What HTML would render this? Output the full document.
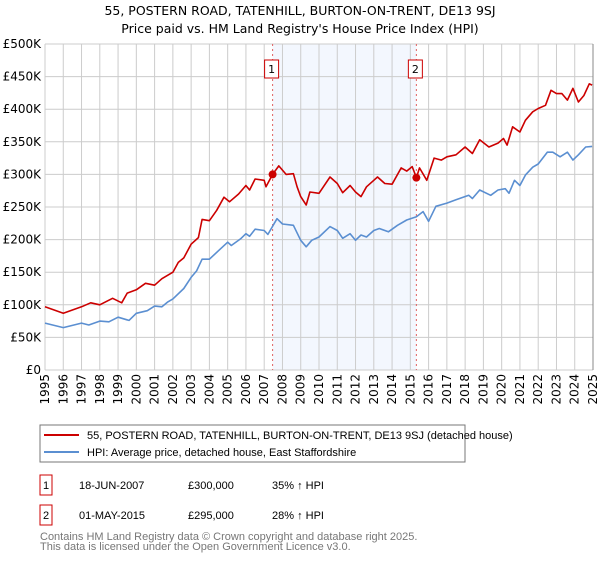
<!DOCTYPE html>
<html><head><meta charset="utf-8"><style>
body{margin:0;background:#fff;font-family:"Liberation Sans","DejaVu Sans",sans-serif}
svg text{font-family:"DejaVu Sans","Liberation Sans",sans-serif}
svg text.ls{font-family:"Liberation Sans",sans-serif}
</style></head><body>
<svg id="chart" width="600" height="560" xmlns="http://www.w3.org/2000/svg">
<text x="300" y="15" text-anchor="middle" font-size="12.5" fill="#000">55, POSTERN ROAD, TATENHILL, BURTON-ON-TRENT, DE13 9SJ</text>
<text x="300" y="33" text-anchor="middle" font-size="12.5" fill="#000">Price paid vs. HM Land Registry's House Price Index (HPI)</text>
<g id="plot"></g>
<rect x="40" y="425" width="425" height="37" fill="#fff" stroke="#777"/>
<line x1="44" y1="435" x2="79" y2="435" stroke="#cc0000" stroke-width="2"/>
<text class="ls" x="87" y="439" font-size="11">55, POSTERN ROAD, TATENHILL, BURTON-ON-TRENT, DE13 9SJ (detached house)</text>
<line x1="44" y1="452" x2="79" y2="452" stroke="#5b8fd1" stroke-width="2"/>
<text class="ls" x="87" y="456" font-size="11">HPI: Average price, detached house, East Staffordshire</text>
<rect x="40" y="475" width="12" height="20" fill="#fff" stroke="#cc0000"/>
<text class="ls" x="46" y="489" font-size="11" text-anchor="middle">1</text>
<text class="ls" x="79" y="489" font-size="11">18-JUN-2007</text>
<text class="ls" x="188" y="489" font-size="11">£300,000</text>
<text class="ls" x="272" y="489" font-size="11">35% ↑ HPI</text>
<rect x="40" y="505" width="12" height="20" fill="#fff" stroke="#cc0000"/>
<text class="ls" x="46" y="519" font-size="11" text-anchor="middle">2</text>
<text class="ls" x="79" y="519" font-size="11">01-MAY-2015</text>
<text class="ls" x="188" y="519" font-size="11">£295,000</text>
<text class="ls" x="272" y="519" font-size="11">28% ↑ HPI</text>
<text class="ls" x="40" y="540" font-size="11" fill="#777">Contains HM Land Registry data © Crown copyright and database right 2025.</text>
<text class="ls" x="40" y="550" font-size="11" fill="#777">This data is licensed under the Open Government Licence v3.0.</text>
</svg>
<script>
const redYears=[1995,1996,1997,1997.5,1998,1998.7,1999.2,1999.5,2000,2000.5,2001,2001.4,2002,2002.3,2002.6,2003,2003.4,2003.6,2004,2004.4,2004.8,2005.1,2005.6,2006,2006.2,2006.5,2007,2007.1,2007.46,2007.8,2008.2,2008.6,2008.8,2009,2009.3,2009.5,2010,2010.6,2011,2011.3,2011.7,2012,2012.3,2012.6,2013,2013.2,2013.6,2014,2014.5,2014.8,2015.1,2015.33,2015.5,2015.9,2016.3,2016.7,2017,2017.5,2018,2018.4,2018.8,2019.3,2019.8,2020.1,2020.3,2020.6,2021,2021.3,2021.7,2022,2022.4,2022.7,2023,2023.3,2023.6,2023.9,2024.2,2024.5,2024.8,2024.95];
const redValues=[97,87,97,103,100,110,103,118,123,133,130,140,150,165,172,193,203,231,229,245,265,258,270,283,276,293,291,281,300,313,300,301,281,266,253,273,271,296,286,272,283,273,266,281,291,296,286,285,310,305,312,295,310,291,325,322,327,330,342,332,353,342,348,355,345,373,365,383,396,401,406,429,424,424,414,432,411,421,439,437];
const hpiYears=[1995,1996,1997,1997.4,1998,1998.5,1999,1999.6,2000,2000.6,2001,2001.4,2001.7,2002,2002.6,2003,2003.3,2003.6,2004,2004.5,2005,2005.2,2005.7,2006,2006.2,2006.5,2007,2007.2,2007.7,2008,2008.6,2009,2009.3,2009.6,2010,2010.6,2011,2011.3,2011.7,2012,2012.3,2012.6,2013,2013.3,2013.8,2014.3,2014.8,2015.33,2015.7,2016,2016.4,2017,2017.5,2018.2,2018.4,2018.8,2019.4,2019.8,2020.2,2020.4,2020.7,2021,2021.3,2021.7,2022,2022.5,2022.8,2023.2,2023.6,2023.9,2024.2,2024.6,2024.95];
const hpiValues=[72,65,72,69,75,74,81,76,87,91,98,97,104,109,125,142,152,170,170,183,196,191,201,209,205,216,214,208,232,224,222,199,189,199,204,220,214,202,209,199,207,204,214,217,212,222,230,235,243,228,251,256,261,268,263,276,268,276,278,271,291,283,299,311,316,334,334,327,334,322,330,342,343];
const saleYears=[2007.46,2015.33];
const saleValues=[300,295];
const saleLabels=["1","2"];
const yTicks=[0,50,100,150,200,250,300,350,400,450,500];
const yTickLabels=["£0","£50K","£100K","£150K","£200K","£250K","£300K","£350K","£400K","£450K","£500K"];
const xTicks=[1995,1996,1997,1998,1999,2000,2001,2002,2003,2004,2005,2006,2007,2008,2009,2010,2011,2012,2013,2014,2015,2016,2017,2018,2019,2020,2021,2022,2023,2024,2025];

const L=45,R=593,T=44,B=370,X0=1995,X1=2025,YMAX=500;
const xs=y=>L+(y-X0)/(X1-X0)*(R-L);
const ys=v=>B-v/YMAX*(B-T);
const NS="http://www.w3.org/2000/svg";
const g=document.getElementById('plot');
function mk(t,a){const e=document.createElementNS(NS,t);for(const k in a)e.setAttribute(k,a[k]);g.appendChild(e);return e;}
let e=mk('rect',{x:xs(saleYears[0]),y:T,width:xs(saleYears[1])-xs(saleYears[0]),height:B-T,fill:'#eef3fd',opacity:0.7});


yTicks.forEach((v,i)=>{
 let l=mk('line',{x1:L,x2:R,y1:ys(v),y2:ys(v),stroke:'#ccc','stroke-width':1});
 
 
 let t=mk('text',{x:L-4,y:ys(v)+4,'text-anchor':'end','font-size':12});
 
 
 t.textContent=yTickLabels[i];
});
xTicks.forEach(v=>{
 let l=mk('line',{x1:xs(v),x2:xs(v),y1:T,y2:B,stroke:'#ccc','stroke-width':1});
 
 
 let t=mk('text',{x:0,y:0,'text-anchor':'end','font-size':12,transform:`translate(${xs(v)+4},${B+4}) rotate(-90)`});
 
 
 t.textContent=v;
});
let ax=mk('line',{x1:R,x2:R,y1:T,y2:B,stroke:'#888'});


saleYears.forEach((y,i)=>{
 let l=mk('line',{x1:xs(y),x2:xs(y),y1:T,y2:B,stroke:'#e06060','stroke-dasharray':'2,3'});
 
 
 let r=mk('rect',{x:xs(y)-8,y:60,width:14,height:18,fill:'#fff',stroke:'#cc0000'});
 
 
 let t=mk('text',{x:xs(y)-1,y:73,'text-anchor':'middle','font-size':11});
 
 
 t.textContent=saleLabels[i];
});
function line(xa,va,col,name){
 let p=mk('polyline',{points:xa.map((y,i)=>xs(y).toFixed(1)+','+ys(va[i]).toFixed(1)).join(' '),fill:'none',stroke:col,'stroke-width':1.6,'stroke-linejoin':'round'});
 
 
}
line(hpiYears,hpiValues,'#5b8fd1','hpi-line');
line(redYears,redValues,'#cc0000','property-price-line');
saleYears.forEach((y,i)=>{
 let c=mk('circle',{cx:xs(y),cy:ys(saleValues[i]),r:4,fill:'#cc0000'});
 
 
});
</script>
</body></html>
